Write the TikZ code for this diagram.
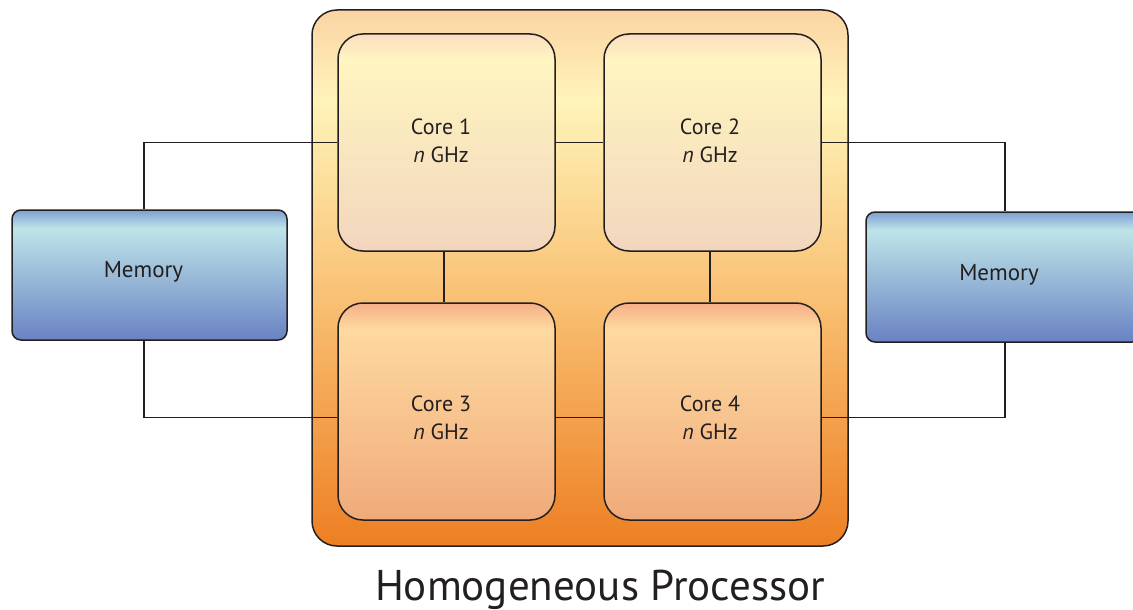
\documentclass[tikz,border=0pt]{standalone}
\usepackage{fontspec}
\setmainfont{PT Sans}
\usetikzlibrary{calc}

\definecolor{procA}{RGB}{251,212,163}
\definecolor{procB}{RGB}{255,244,185}
\definecolor{procC}{RGB}{249,192,115}
\definecolor{procD}{RGB}{237,127,35}
\definecolor{tcA}{RGB}{250,222,192}
\definecolor{tcB}{RGB}{255,245,192}
\definecolor{tcC}{RGB}{242,214,190}
\definecolor{bcA}{RGB}{246,175,135}
\definecolor{bcB}{RGB}{254,217,160}
\definecolor{bcC}{RGB}{240,170,122}
\definecolor{mA}{RGB}{125,160,210}
\definecolor{mB}{RGB}{190,228,232}
\definecolor{mC}{RGB}{105,130,195}
\definecolor{ink}{RGB}{35,31,32}

% Vertical shadings: the path's bounding box spans 25bp (bottom) to 75bp (top)
\pgfdeclareverticalshading{procshade}{100bp}{%
  color(0bp)=(procD); color(25bp)=(procD); color(48bp)=(procC);
  color(66.6bp)=(procB); color(75bp)=(procA); color(100bp)=(procA)}
\pgfdeclareverticalshading{topcoreshade}{100bp}{%
  color(0bp)=(tcC); color(25bp)=(tcC); color(69bp)=(tcB);
  color(75bp)=(tcA); color(100bp)=(tcA)}
\pgfdeclareverticalshading{botcoreshade}{100bp}{%
  color(0bp)=(bcC); color(25bp)=(bcC); color(69bp)=(bcB);
  color(75bp)=(bcA); color(100bp)=(bcA)}
\pgfdeclareverticalshading{memshade}{100bp}{%
  color(0bp)=(mC); color(25bp)=(mC); color(68bp)=(mB);
  color(75bp)=(mA); color(100bp)=(mA)}

\tikzset{
  outline/.style={draw=ink, line width=1.5pt},
  procbox/.style={outline, rounded corners=25pt, shading=procshade,
    minimum width=536pt, minimum height=536pt, inner sep=0pt},
  corebox/.style={outline, rounded corners=25pt, inner sep=0pt,
    minimum width=217pt, minimum height=217pt},
  topcore/.style={corebox, shading=topcoreshade},
  botcore/.style={corebox, shading=botcoreshade},
  membox/.style={outline, rounded corners=9pt, shading=memshade,
    minimum width=275pt, minimum height=130pt, inner sep=0pt},
  boxtext/.style={text=ink, font=\fontsize{22}{28}\selectfont, align=center},
  memtext/.style={text=ink, font=\fontsize{23}{28}\selectfont},
  wire/.style={draw=ink, line width=1.4pt},
}

\begin{document}
\begin{tikzpicture}[x=1pt, y=-1pt]
  \useasboundingbox (0,0) rectangle (1133,610);
  \clip (0,0) rectangle (1133,610);

  % processor package
  \node[procbox] (proc) at (580,278) {};

  % four cores
  \node[topcore] (c1) at (446.5,142.5) {};
  \node[topcore] (c2) at (712.5,142.5) {};
  \node[botcore] (c3) at (446.5,411.5) {};
  \node[botcore] (c4) at (712.5,411.5) {};

  \node[boxtext] (t1) at (441,141) {Core 1\\\textit{n} GHz};
  \node[boxtext] (t2) at (710,141) {Core 2\\\textit{n} GHz};
  \node[boxtext] (t3) at (441,418) {Core 3\\\textit{n} GHz};
  \node[boxtext] (t4) at (710,418) {Core 4\\\textit{n} GHz};

  % memories
  \node[membox] (m1) at (149.5,275) {};
  \node[membox] (m2) at (1003.5,277) {};
  \node[memtext] (mt1) at (143.5,272) {Memory};
  \node[memtext] (mt2) at (999,275) {Memory};

  % bus routing columns and lower row
  \coordinate (lbus) at (144,0);
  \coordinate (rbus) at (1005,0);
  \coordinate (low3) at ($(c3.west)+(0,6)$);
  \coordinate (low4) at ($(c4.east)+(0,6)$);
  \coordinate (mid3) at ($(c3.east)+(0,6)$);
  \coordinate (mid4) at ($(c4.west)+(0,6)$);

  % connectors
  \draw[wire] (c1.west) -| (m1.north -| lbus);
  \draw[wire] (m1.south -| lbus) |- (low3);
  \draw[wire] (c2.east) -| (m2.north -| rbus);
  \draw[wire] (m2.south -| rbus) |- (low4);
  \draw[wire] (c1.east) -- (c2.west);
  \draw[wire] (mid3) -- (mid4);
  \draw[wire] ($(c1.south)+(-2.5,0)$) -- ($(c3.north)+(-2.5,0)$);
  \draw[wire] ($(c2.south)+(-2.5,0)$) -- ($(c4.north)+(-2.5,0)$);

  % caption
  \node[text=ink, font=\fontsize{43}{50}\selectfont, anchor=base] (cap)
    at (600,600) {Homogeneous Processor};
\end{tikzpicture}
\end{document}
